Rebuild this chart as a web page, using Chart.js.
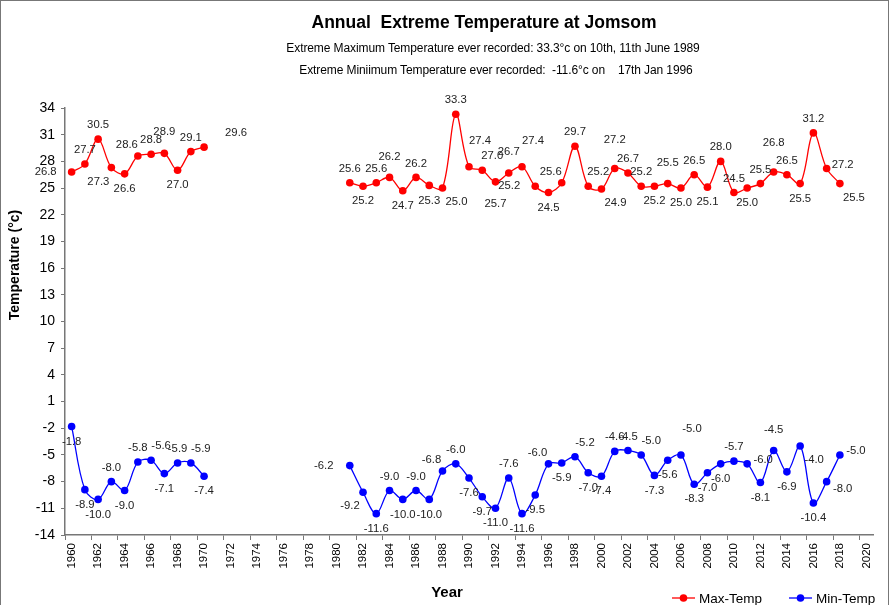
<!DOCTYPE html>
<html>
<head>
<meta charset="utf-8">
<title>Annual Extreme Temperature at Jomsom</title>
<script src="https://cdn.jsdelivr.net/npm/chart.js@4/dist/chart.umd.min.js"></script>
<style>
    body { margin: 0; background: #fff; font-family: 'Liberation Sans', Arial, sans-serif; }
    #wrap { position: relative; width: 893px; height: 605px; overflow: hidden; }
    #frame { position: absolute; left: 0; top: 0; width: 887px; height: 640px; border: 1px solid #777; }
    canvas { position: absolute; left: 0; top: 0; }
    .txt { position: absolute; white-space: nowrap; color: #000; }
    .title { left: 184px; width: 600px; top: 12px; text-align: center; font-weight: bold; font-size: 17.5px; }
    .sub1 { left: 193px; width: 600px; top: 41px; text-align: center; font-size: 12px; letter-spacing: -0.1px; }
    .sub2 { left: 196px; width: 600px; top: 63px; text-align: center; font-size: 12px; letter-spacing: -0.1px; }
    .ytitle { left: 14px; top: 265px; font-weight: bold; font-size: 14px; transform: translate(-50%, -50%) rotate(-90deg); }
    .xtitle { left: 447px; top: 591px; font-weight: bold; font-size: 15px; transform: translate(-50%, -50%); }
</style>
</head>
<body>
<div id="wrap">
    <canvas id="tempChart" width="893" height="605"></canvas>
    <div id="frame"></div>
    <div class="txt title">Annual&nbsp;&nbsp;Extreme Temperature at Jomsom</div>
    <div class="txt sub1">Extreme Maximum Temperature ever recorded: 33.3°c on 10th, 11th June 1989</div>
    <div class="txt sub2">Extreme Miniimum Temperature ever recorded:&nbsp; -11.6°c on&nbsp;&nbsp;&nbsp; 17th Jan 1996</div>
    <div class="txt ytitle">Temperature (°c)</div>
    <div class="txt xtitle">Year</div>
</div>
<script>
// 年份 (类别轴)
const years = [
    '1960', '1961', '1962', '1963', '1964', '1965', '1966', '1967', '1968', '1969',
    '1970', '1971', '1972', '1973', '1974', '1975', '1976', '1977', '1978', '1979',
    '1980', '1981', '1982', '1983', '1984', '1985', '1986', '1987', '1988', '1989',
    '1990', '1991', '1992', '1993', '1994', '1995', '1996', '1997', '1998', '1999',
    '2000', '2001', '2002', '2003', '2004', '2005', '2006', '2007', '2008', '2009',
    '2010', '2011', '2012', '2013', '2014', '2015', '2016', '2017', '2018', '2019',
    '2020'
];

// 年最高气温
const maxTemp = [
    26.8, 27.7, 30.5, 27.3, 26.6, 28.6, 28.8, 28.9, 27.0, 29.1,
    29.6, null, null, null, null, null, null, null, null, null,
    null, 25.6, 25.2, 25.6, 26.2, 24.7, 26.2, 25.3, 25.0, 33.3,
    27.4, 27.0, 25.7, 26.7, 27.4, 25.2, 24.5, 25.6, 29.7, 25.2,
    24.9, 27.2, 26.7, 25.2, 25.2, 25.5, 25.0, 26.5, 25.1, 28.0,
    24.5, 25.0, 25.5, 26.8, 26.5, 25.5, 31.2, 27.2, 25.5, null,
    null
];

// 年最低气温
const minTemp = [
    -1.8, -8.9, -10.0, -8.0, -9.0, -5.8, -5.6, -7.1, -5.9, -5.9,
    -7.4, null, null, null, null, null, null, null, null, null,
    null, -6.2, -9.2, -11.6, -9.0, -10.0, -9.0, -10.0, -6.8, -6.0,
    -7.6, -9.7, -11.0, -7.6, -11.6, -9.5, -6.0, -5.9, -5.2, -7.0,
    -7.4, -4.6, -4.5, -5.0, -7.3, -5.6, -5.0, -8.3, -7.0, -6.0,
    -5.7, -6.0, -8.1, -4.5, -6.9, -4.0, -10.4, -8.0, -5.0, null,
    null
];

// 数据标签位置 (相对数据点)
const maxLabelPos = [
    'l', 'a', 'a', 'bl', 'b', 'al', 'a', 'A', 'b', 'a',
    'R', null, null, null, null, null, null, null, null, null,
    null, 'a', 'b', 'a', 'A', 'b', 'a', 'b', 'br', 'a',
    'Ar', 'ar', 'B', 'A', 'Ar', 'l', 'b', 'al', 'a', 'ar',
    'br', 'AA', 'a', 'a', 'b', 'A', 'b', 'a', 'b', 'a',
    'a', 'b', 'a', 'AA', 'a', 'b', 'a', 'r', 'br', null,
    null
];
const minLabelPos = [
    'b', 'b', 'b', 'a', 'b', 'a', 'ar', 'b', 'a', 'ar',
    'b', null, null, null, null, null, null, null, null, null,
    null, 'l', 'bl', 'b', 'a', 'b', 'a', 'b', 'al', 'a',
    'b', 'b', 'b', 'a', 'b', 'b', 'al', 'b', 'ar', 'b',
    'b', 'a', 'a', 'ar', 'b', 'b', 'Ar', 'b', 'b', 'b',
    'a', 'r', 'b', 'A', 'b', 'br', 'b', 'rb', 'r', null,
    null
];

const labelOffsets = {
    a: [0, -14], A: [0, -21], AA: [0, -29],
    b: [0, 15], B: [0, 22],
    l: [-26, 0], r: [16, -4], rb: [16, 7], R: [32, -14],
    al: [-11, -11], ar: [10, -14], Ar: [11, -26],
    bl: [-13, 14], br: [14, 14]
};

const FONT = "'Liberation Sans', Arial, sans-serif";

// 数据标签插件
const pointLabels = {
    id: 'pointLabels',
    afterDatasetsDraw(chart, args, opts) {
        const ctx = chart.ctx;
        ctx.save();
        ctx.font = '11.3px ' + FONT;
        ctx.fillStyle = '#222';
        ctx.textAlign = 'center';
        ctx.textBaseline = 'middle';
        chart.data.datasets.forEach((ds, i) => {
            const meta = chart.getDatasetMeta(i);
            const pos = opts.positions[i];
            meta.data.forEach((pt, j) => {
                const v = ds.data[j];
                if (v === null || pt.skip) return;
                const off = labelOffsets[pos[j]] || labelOffsets.a;
                ctx.fillText(v.toFixed(1), pt.x + off[0], pt.y + off[1]);
            });
        });
        ctx.restore();
    }
};

// 图例插件 (线 + 点)
const lineLegend = {
    id: 'lineLegend',
    afterDraw(chart, args, opts) {
        const ctx = chart.ctx;
        ctx.save();
        ctx.font = '13.5px ' + FONT;
        ctx.textBaseline = 'middle';
        ctx.textAlign = 'left';
        chart.data.datasets.forEach((ds, i) => {
            const x = opts.x[i], y = opts.y;
            ctx.strokeStyle = ds.borderColor;
            ctx.lineWidth = 1.3;
            ctx.beginPath();
            ctx.moveTo(x, y);
            ctx.lineTo(x + 23, y);
            ctx.stroke();
            ctx.fillStyle = ds.borderColor;
            ctx.beginPath();
            ctx.arc(x + 11.5, y, 3.8, 0, Math.PI * 2);
            ctx.fill();
            ctx.fillStyle = '#000';
            ctx.fillText(ds.label, x + 27, y + 1);
        });
        ctx.restore();
    }
};

const ctx = document.getElementById('tempChart').getContext('2d');
new Chart(ctx, {
    type: 'line',
    data: {
        labels: years,
        datasets: [
            {
                label: 'Max-Temp',
                data: maxTemp,
                borderColor: '#ff0000',
                backgroundColor: '#ff0000',
                borderWidth: 1.3,
                pointRadius: 3.8,
                pointBorderWidth: 0,
                tension: 0.35,
                spanGaps: false
            },
            {
                label: 'Min-Temp',
                data: minTemp,
                borderColor: '#0000ff',
                backgroundColor: '#0000ff',
                borderWidth: 1.3,
                pointRadius: 3.8,
                pointBorderWidth: 0,
                tension: 0.35,
                spanGaps: false
            }
        ]
    },
    options: {
        responsive: false,
        animation: false,
        devicePixelRatio: 1,
        layout: { padding: { left: 0, top: 108, right: 20, bottom: 0 } },
        plugins: {
            legend: { display: false },
            tooltip: { enabled: false },
            pointLabels: { positions: [maxLabelPos, minLabelPos] },
            lineLegend: { x: [672, 789], y: 598 }
        },
        scales: {
            x: {
                type: 'category',
                offset: true,
                afterFit(scale) { scale.height = 70; },
                grid: {
                    display: true,
                    offset: true,
                    drawOnChartArea: false,
                    tickLength: 5,
                    tickColor: c => (c.index !== undefined && c.index % 2 === 0) ? '#777' : 'rgba(0,0,0,0)'
                },
                border: { display: true, color: '#777', width: 1.5 },
                ticks: {
                    autoSkip: false,
                    minRotation: 90,
                    maxRotation: 90,
                    padding: 3,
                    color: '#000',
                    font: { family: FONT, size: 11.5 },
                    callback: function (val, i) {
                        return i % 2 === 0 ? this.getLabelForValue(val) : '';
                    }
                }
            },
            y: {
                min: -14,
                max: 34,
                afterFit(scale) { scale.width = 65; },
                grid: {
                    display: true,
                    drawOnChartArea: false,
                    tickLength: 4,
                    tickColor: '#777'
                },
                border: { display: true, color: '#777', width: 1.5 },
                ticks: {
                    stepSize: 3,
                    padding: 6,
                    color: '#000',
                    font: { family: FONT, size: 14 }
                }
            }
        }
    },
    plugins: [pointLabels, lineLegend]
});
</script>
</body>
</html>
